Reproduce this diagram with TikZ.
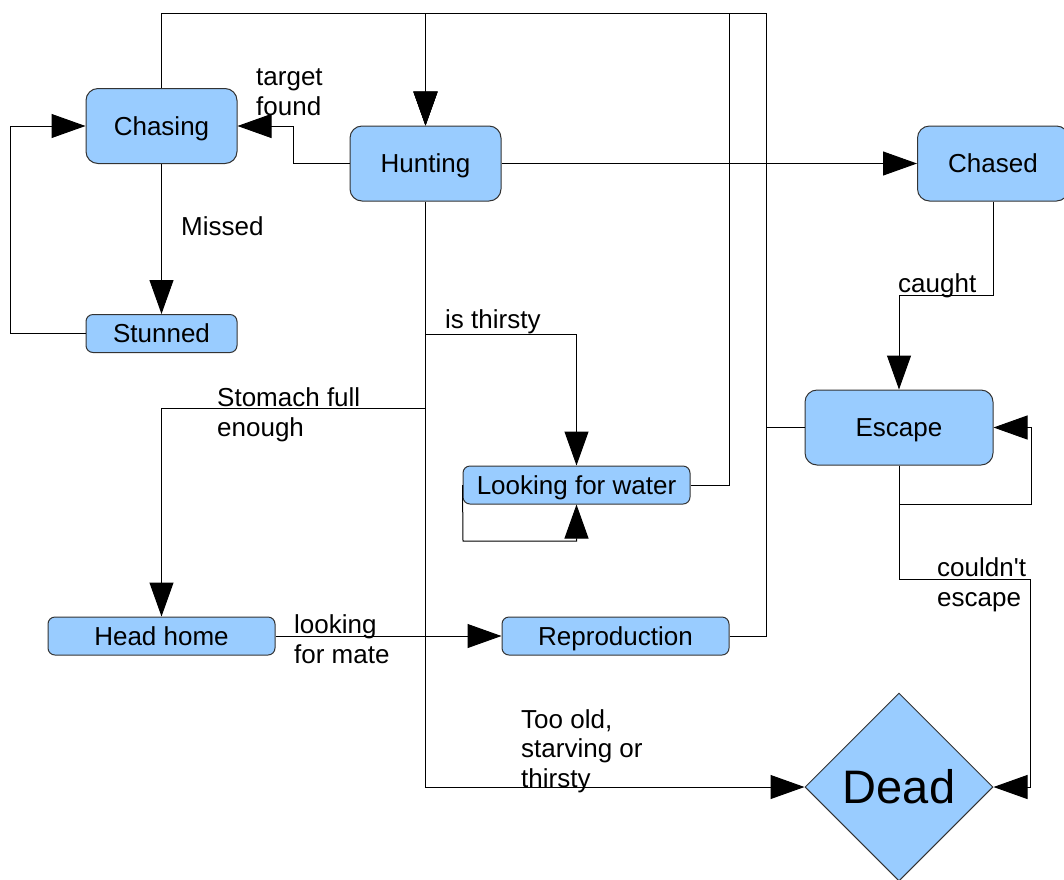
\documentclass[tikz,border=0pt]{standalone}
\usepackage{fontspec}
\setmainfont{Liberation Sans}[Ligatures=TeXOff]
\usetikzlibrary{shapes.geometric,arrows.meta}
\definecolor{statefill}{HTML}{99CCFF}
\definecolor{edgegray}{HTML}{333333}
\begin{document}
\begin{tikzpicture}[x=1pt,y=-1pt,
  state/.style={draw=edgegray, fill=statefill, rounded corners=12pt, minimum width=151pt, minimum height=75pt, inner sep=0pt, font=\fontsize{26}{29.5}\selectfont, text height=18pt, text depth=0pt, line width=1pt},
  smallstate/.style={state, rounded corners=7pt, minimum height=38pt},
  widestate/.style={smallstate, minimum width=227pt},
  lbl/.style={anchor=west, inner sep=0pt, align=left, font=\fontsize{26}{29.5}\selectfont},
  conn/.style={draw=black, line width=1pt},
  arr/.style={conn, -{Triangle[length=34pt,width=24pt]}},
]
\useasboundingbox (0,0) rectangle (1064,879);

% nodes
\node[state] (chasing) at (161.5,126) {Chasing};
\node[state] (hunting) at (425.5,163.5) {Hunting};
\node[state] (chased) at (993,163.5) {Chased};
\node[smallstate] (stunned) at (161.5,333.5) {Stunned};
\node[widestate] (water) at (576.5,485) {Looking for water};
\node[state, minimum width=188pt] (escape) at (899,427.5) {Escape};
\node[widestate] (home) at (161.5,636) {Head home};
\node[widestate] (repro) at (615.5,636) {Reproduction};
\node[diamond, draw=edgegray, fill=statefill, line width=1pt, minimum width=188pt, minimum height=188pt, inner sep=0pt, font=\fontsize{47}{50}\selectfont] (dead) at (899,787) {Dead};

% helper coordinates
\coordinate (ytop) at (0,13);
\coordinate (c729) at (729,13);
\coordinate (c766) at (766,13);
\coordinate (tf) at (293,126);
\coordinate (sl) at (10,126);
\coordinate (th) at (425.5,334);
\coordinate (st) at (425.5,408);
\coordinate (wl) at (463,541);
\coordinate (cg) at (993,295);
\coordinate (el) at (1031,504);
\coordinate (ce) at (1030,579);

% connectors back to Hunting
\draw[arr] (chasing.north) -- (chasing.north |- ytop) -| (hunting.north);
\draw[arr] (water.east) -| (c729) -| (hunting.north);
\draw[arr] (repro.east) -| (c766) -| (hunting.north);
\draw[arr] (escape.west) -| (c766) -| (hunting.north);

% other connectors
\draw[arr] (hunting.west) -| (tf) -- (chasing.east);
\draw[arr] (hunting.east) -- (chased.west);
\draw[arr] (chasing.south) -- (stunned.north);
\draw[arr] (stunned.west) -| (sl) -- (chasing.west);
\draw[arr] (hunting.south) |- (dead.west);
\draw[arr] (th) -| (water.north);
\draw[arr] (st) -| (home.north);
\draw[arr] (water.west) -- (wl) -| (water.south);
\draw[arr] (chased.south) -- (cg) -| (escape.north);
\draw[arr] (escape.south) |- (el) |- (escape.east);
\draw[arr] (escape.south) |- (ce) |- (dead.east);
\draw[arr] (home.east) -- (repro.west);

% labels
\node[lbl] (lTarget) at (256,92) {target\\found};
\node[lbl] (lMissed) at (181,226) {Missed};
\node[lbl] (lThirsty) at (445,322) {is thirsty};
\node[lbl] (lStomach) at (217,415) {Stomach full\\enough};
\node[lbl] (lOld) at (521,751) {Too old,\\starving or\\thirsty};
\node[lbl] (lCaught) at (898,286) {caught};
\node[lbl] (lEscape) at (937,585) {couldn't\\escape};
\node[lbl] (lMate) at (294,639) {looking\\for mate};
\end{tikzpicture}
\end{document}
